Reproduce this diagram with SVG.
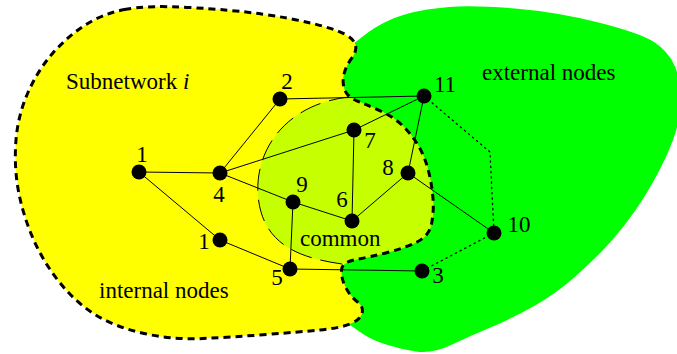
<svg xmlns="http://www.w3.org/2000/svg" width="677" height="354" viewBox="0 0 677 354">
<style>
text{font-family:"Liberation Serif","Times New Roman",serif;font-size:23px;fill:#000}
.lbl{text-anchor:middle}
.e{stroke:#000;stroke-width:1;fill:none}
.d{stroke:#000;stroke-width:1.3;fill:none;stroke-dasharray:1.3 4;stroke-linecap:round}
.n{fill:#000}
</style>
<g id="regions">
<path id="green" fill="#00ff00" d="M330,60 L343,51 Q356,42 364,35.5 Q372,29 383.5,23 Q395,17 410,13 Q425,9 449,7 Q473,5 515,8.5 Q557,12 598.5,22.5 Q640,33 654,42 Q668,51 674.5,65.5 Q681,80 681,97.5 Q681,115 675.5,132.5 Q670,150 659,171 Q648,192 636,209.5 Q624,227 610.5,242 Q597,257 577,275 Q557,293 535,305.5 Q513,318 491.5,327 Q470,336 451,345 Q432,354 416,351.5 Q400,349 386,344.5 Q372,340 363,334 Q354,328 342,319 L330,310 Z"/>
<path id="yellow" fill="#ffff00" d="M124.5,9.5 Q147,5 190,7.5 Q233,10 261.5,14 Q290,18 312.5,23.5 Q335,29 344.5,34 Q354,39 355.5,45 Q357,51 351.5,58.5 Q346,66 344,74 Q342,82 344.5,89.5 Q347,97 358.5,101.5 Q370,106 382.5,112 Q395,118 403.5,126.5 Q412,135 418.5,146 Q425,157 428.5,171 Q432,185 433,198.5 Q434,212 431.5,224 Q429,236 417,242 Q405,248 387.5,252.5 Q370,257 356,259.5 Q342,262 341.5,270 Q341,278 345.5,287 Q350,296 357,301.5 Q364,307 362,313.5 Q360,320 350,324 Q340,328 320,330 Q300,332 266.5,334.5 Q233,337 203,338.5 Q173,340 144,333.5 Q115,327 95,314.5 Q75,302 58.5,281 Q42,260 32,236 Q22,212 18,188.5 Q14,165 16,140 Q18,115 28,92.5 Q38,70 52.5,53.5 Q67,37 84.5,25.5 Q102,14 124.5,9.5 Z"/>
<path id="common" fill="#c6ff00" d="M358.5,101.5 Q370,106 382.5,112 Q395,118 403.5,126.5 Q412,135 418.5,146 Q425,157 428.5,171 Q432,185 433,198.5 Q434,212 431.5,224 Q429,236 417,242 Q405,248 387.5,252.5 Q370,257 356,259.5 Q346,261 342,264 C300,258 262,245 258,195 C255,150 285,105 348,97 Z"/>
<path id="common-edge" fill="none" stroke="#000" stroke-width="1" stroke-dasharray="22 9" d="M342,264 C300,258 262,245 258,195 C255,150 285,105 348,97"/>
<path id="subnet-border" fill="none" stroke="#000" stroke-width="3" stroke-dasharray="7 5" d="M124.5,9.5 Q147,5 190,7.5 Q233,10 261.5,14 Q290,18 312.5,23.5 Q335,29 344.5,34 Q354,39 355.5,45 Q357,51 351.5,58.5 Q346,66 344,74 Q342,82 344.5,89.5 Q347,97 358.5,101.5 Q370,106 382.5,112 Q395,118 403.5,126.5 Q412,135 418.5,146 Q425,157 428.5,171 Q432,185 433,198.5 Q434,212 431.5,224 Q429,236 417,242 Q405,248 387.5,252.5 Q370,257 356,259.5 Q342,262 341.5,270 Q341,278 345.5,287 Q350,296 357,301.5 Q364,307 362,313.5 Q360,320 350,324 Q340,328 320,330 Q300,332 266.5,334.5 Q233,337 203,338.5 Q173,340 144,333.5 Q115,327 95,314.5 Q75,302 58.5,281 Q42,260 32,236 Q22,212 18,188.5 Q14,165 16,140 Q18,115 28,92.5 Q38,70 52.5,53.5 Q67,37 84.5,25.5 Q102,14 124.5,9.5 Z"/>
</g>
<g id="connectors">
<line class="e" x1="139" y1="172" x2="220" y2="173"/>
<line class="e" x1="139" y1="172" x2="220" y2="240"/>
<line class="e" x1="220" y1="173" x2="280" y2="99"/>
<line class="e" x1="220" y1="173" x2="354" y2="130"/>
<line class="e" x1="220" y1="173" x2="293" y2="202"/>
<line class="e" x1="280" y1="99" x2="424" y2="96"/>
<line class="e" x1="354" y1="130" x2="424" y2="96"/>
<line class="e" x1="354" y1="130" x2="352" y2="221"/>
<line class="e" x1="293" y1="202" x2="352" y2="221"/>
<line class="e" x1="293" y1="202" x2="290" y2="269"/>
<line class="e" x1="352" y1="221" x2="408" y2="173"/>
<line class="e" x1="408" y1="173" x2="424" y2="96"/>
<line class="e" x1="408" y1="173" x2="494" y2="233"/>
<line class="e" x1="220" y1="240" x2="290" y2="269"/>
<line class="e" x1="290" y1="269" x2="422" y2="271"/>
<polyline class="d" points="424,96 490,152 494,233"/>
<line class="d" x1="494" y1="233" x2="422" y2="271"/>
</g>
<g id="node-1a"><circle class="n" cx="139" cy="172" r="7.5"/><text class="lbl" x="142" y="162">1</text></g>
<g id="node-4"><circle class="n" cx="220" cy="173" r="7.5"/><text class="lbl" x="219" y="202">4</text></g>
<g id="node-2"><circle class="n" cx="280" cy="99" r="7.5"/><text class="lbl" x="287" y="89">2</text></g>
<g id="node-7"><circle class="n" cx="354" cy="130" r="7.5"/><text class="lbl" x="370" y="148">7</text></g>
<g id="node-11"><circle class="n" cx="424" cy="96" r="7.5"/><text class="lbl" x="445" y="92">11</text></g>
<g id="node-8"><circle class="n" cx="408" cy="173" r="7.5"/><text class="lbl" x="388" y="175">8</text></g>
<g id="node-9"><circle class="n" cx="293" cy="202" r="7.5"/><text class="lbl" x="302" y="192">9</text></g>
<g id="node-6"><circle class="n" cx="352" cy="221" r="7.5"/><text class="lbl" x="342" y="207">6</text></g>
<g id="node-1b"><circle class="n" cx="220" cy="240" r="7.5"/><text class="lbl" x="204" y="249">1</text></g>
<g id="node-5"><circle class="n" cx="290" cy="269" r="7.5"/><text class="lbl" x="277" y="285">5</text></g>
<g id="node-3"><circle class="n" cx="422" cy="271" r="7.5"/><text class="lbl" x="438" y="283">3</text></g>
<g id="node-10"><circle class="n" cx="494" cy="233" r="7.5"/><text class="lbl" x="519" y="232">10</text></g>
<g id="labels">
<text x="66" y="89">Subnetwork <tspan font-style="italic">i</tspan></text>
<text x="482" y="80">external nodes</text>
<text x="99" y="298">internal nodes</text>
<text x="300" y="246">common</text>
</g>
</svg>
